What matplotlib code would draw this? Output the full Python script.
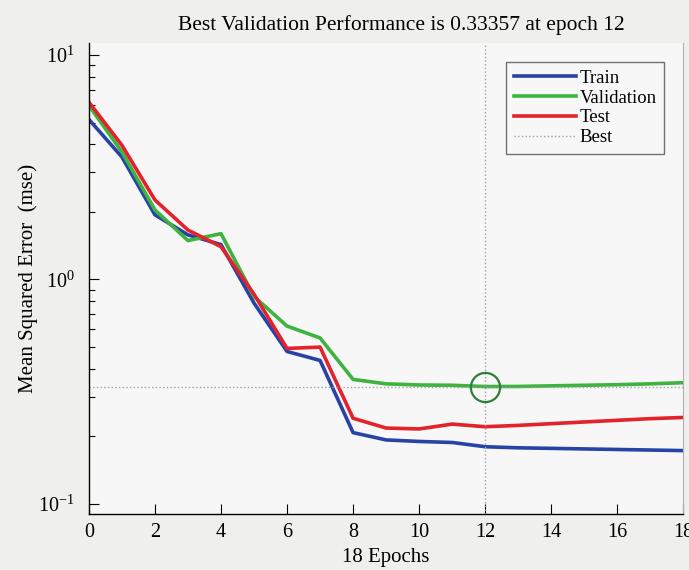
# Training performance plot (train / validation / test mse per epoch)
import numpy as np
import matplotlib.pyplot as plt
from matplotlib.ticker import LogLocator, NullFormatter

epochs = list(range(19))
train = [5.16, 3.51, 1.94, 1.58, 1.43, 0.785, 0.478, 0.436, 0.208, 0.193, 0.190, 0.188,
         0.180, 0.178, 0.177, 0.176, 0.175, 0.174, 0.173]
validation = [5.95, 3.70, 2.04, 1.49, 1.60, 0.84, 0.62, 0.549, 0.359, 0.343, 0.339, 0.338,
              0.33357, 0.334, 0.336, 0.338, 0.340, 0.343, 0.347]
test = [6.16, 3.96, 2.26, 1.66, 1.40, 0.86, 0.493, 0.50, 0.241, 0.218, 0.216, 0.227,
        0.221, 0.224, 0.228, 0.232, 0.236, 0.240, 0.243]
best_epoch = 12
best_perf = 0.33357

plt.rcParams["font.family"] = ["Liberation Serif", "DejaVu Serif"]

fig = plt.figure(figsize=(6.89, 5.70), dpi=100, facecolor="#efefed")
ax = fig.add_axes([0.129, 0.0988, 0.8628, 0.8258])
ax.set_facecolor("#f7f7f7")

ax.semilogy(epochs, train, color="#2743a6", lw=2.6, label="Train")
ax.semilogy(epochs, validation, color="#3fb33f", lw=2.6, label="Validation")
ax.semilogy(epochs, test, color="#e3222b", lw=2.6, label="Test")
ax.axhline(best_perf, color="#a0a0a0", lw=1.0, ls=":", label="Best")
ax.axvline(best_epoch, color="#a0a0a0", lw=1.0, ls=":")
ax.plot(best_epoch, best_perf, "o", ms=21, mfc="none", mec="#2e7d3a", mew=1.6)

ax.set_xlim(0, 18)
ax.set_ylim(0.0906, 11.3)
ax.set_xticks(range(0, 19, 2))
ax.yaxis.set_major_locator(LogLocator(base=10, numticks=5))
ax.yaxis.set_minor_locator(LogLocator(base=10, subs=np.arange(2, 10), numticks=20))
ax.yaxis.set_minor_formatter(NullFormatter())
ax.tick_params(direction="in", labelsize=14.5, length=7, width=0.8, pad=7)
ax.tick_params(which="minor", direction="in", length=4, width=0.8)
ax.tick_params(axis="y", pad=10)

ax.spines["top"].set_visible(False)
ax.spines["right"].set_color("#b0b0b0")
ax.spines["left"].set_linewidth(1.0)
ax.spines["bottom"].set_linewidth(1.0)

ax.set_title("Best Validation Performance is 0.33357 at epoch 12", fontsize=15.5, pad=9, x=0.525)
ax.set_xlabel("18 Epochs", fontsize=15, labelpad=4)
ax.set_ylabel("Mean Squared Error  (mse)", fontsize=15, labelpad=0)

leg = ax.legend(loc="upper right", bbox_to_anchor=(0.9675, 0.9596), fontsize=13.5,
                frameon=True, fancybox=False, edgecolor="#505050", facecolor="#f7f7f7",
                handlelength=3.3, handletextpad=0.2, labelspacing=0.15, borderpad=0.4,
                borderaxespad=0)
leg.get_frame().set_linewidth(1.0)

plt.savefig("out.png", dpi=100, facecolor=fig.get_facecolor())
